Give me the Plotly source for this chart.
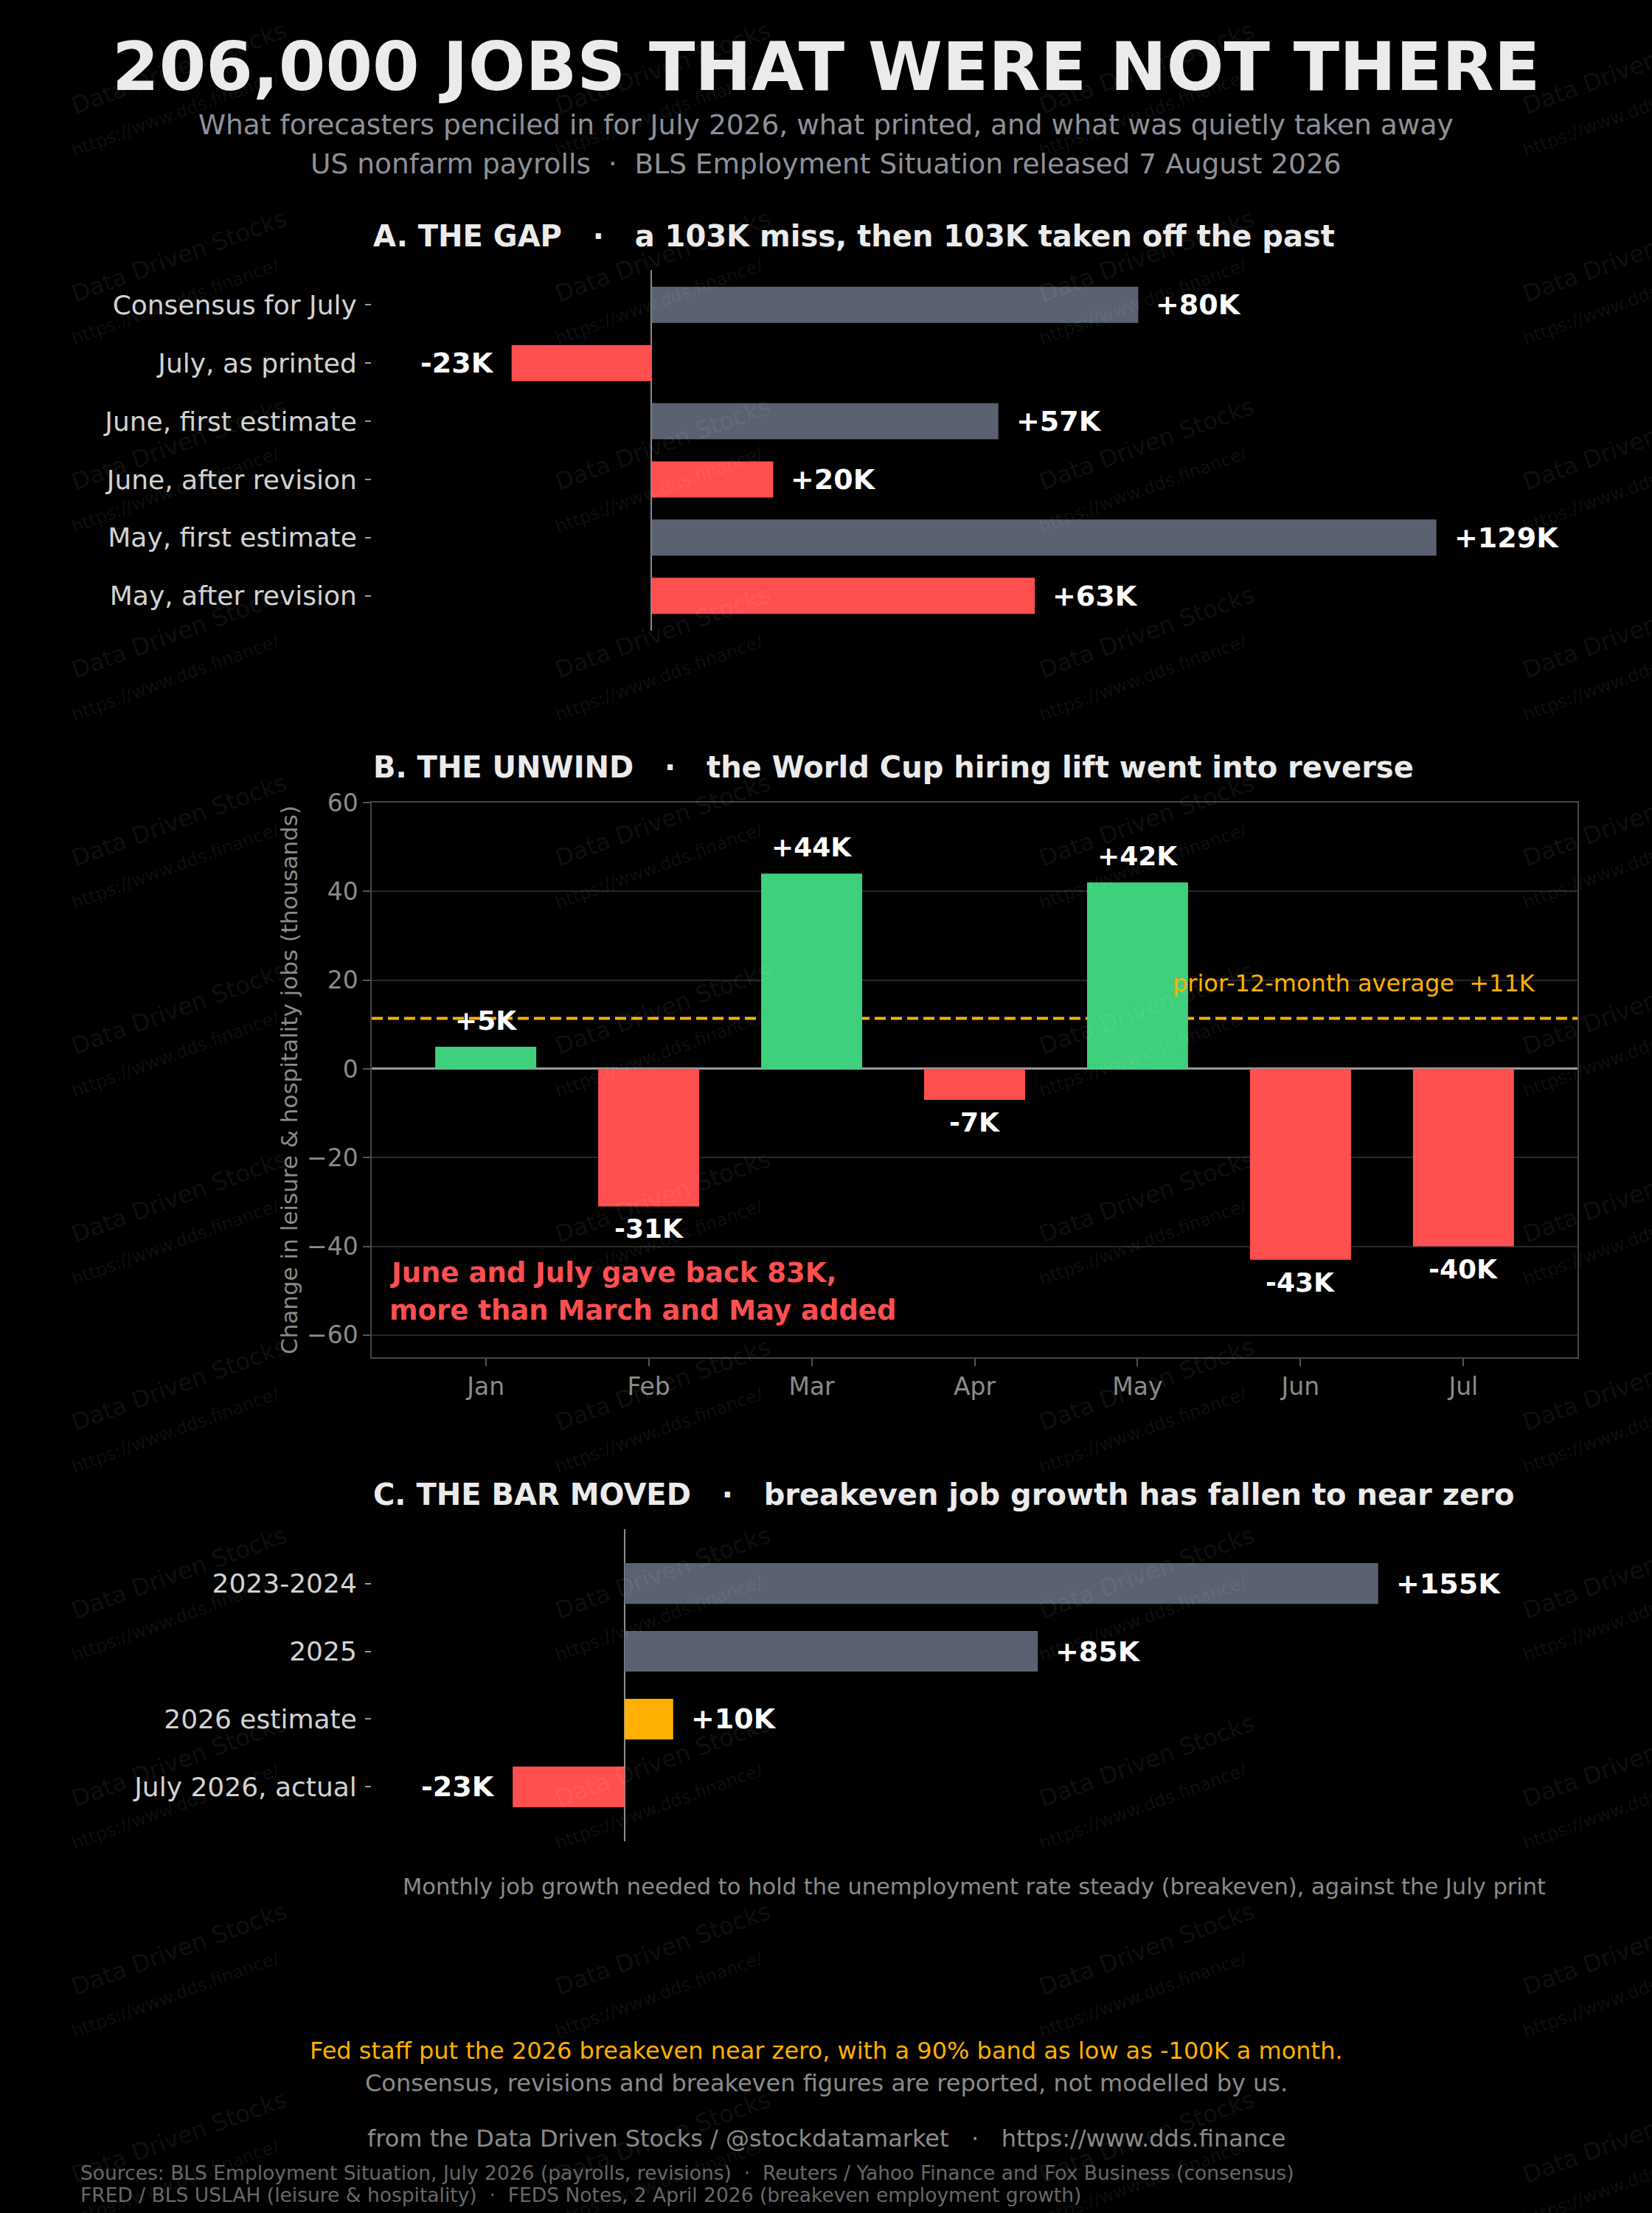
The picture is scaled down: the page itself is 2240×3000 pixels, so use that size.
import plotly.graph_objects as go

# A. the gap: payroll prints vs expectations (thousands)
gap_labels = ["Consensus for July", "July, as printed", "June, first estimate",
              "June, after revision", "May, first estimate", "May, after revision"]
gap_values = [80, -23, 57, 20, 129, 63]

# B. leisure & hospitality, monthly change (thousands)
months = ["Jan", "Feb", "Mar", "Apr", "May", "Jun", "Jul"]
lh_change = [5, -31, 44, -7, 42, -43, -40]
lh_prior_avg = 11.4

# C. breakeven job growth (thousands a month)
be_labels = ["2023-2024", "2025", "2026 estimate", "July 2026, actual"]
be_values = [155, 85, 10, -23]

W, H = 2240, 3000
BG = "#000000"
TITLE = "#ebebeb"
SUB = "#8e9099"
LABEL = "#d2d2d2"
TICK = "#8a8a8a"
GREY = "#5a6170"
RED = "#ff4f4f"
GREEN = "#3ed07c"
ORANGE = "#ffb000"
FONT = "DejaVu Sans"
SP = "\u00a0"


def px_x(x):
    return x / W


def px_y(y):
    return 1 - y / H


def k_label(v):
    return f"{v:+d}K"


gap_colors = [RED if ("printed" in lab or "after" in lab) else GREY for lab in gap_labels]
lh_colors = [GREEN if v > 0 else RED for v in lh_change]
be_colors = [RED if "actual" in lab else ORANGE if "estimate" in lab else GREY for lab in be_labels]

fig = go.Figure()
fig.add_trace(go.Bar(x=gap_values, y=gap_labels, orientation="h", width=0.62,
                     marker=dict(color=gap_colors, line=dict(width=0)),
                     xaxis="x", yaxis="y", hoverinfo="skip"))
fig.add_trace(go.Bar(x=months, y=lh_change, width=0.62,
                     marker=dict(color=lh_colors, line=dict(width=0)),
                     xaxis="x2", yaxis="y2", hoverinfo="skip"))
fig.add_trace(go.Bar(x=be_values, y=be_labels, orientation="h", width=0.6,
                     marker=dict(color=be_colors, line=dict(width=0)),
                     xaxis="x3", yaxis="y3", hoverinfo="skip"))

xdom = [px_x(504), px_x(2139)]
hbar_y = dict(type="category", ticks="outside", ticklen=8, tickwidth=1.5, tickcolor="#9a9a9a",
              ticklabelstandoff=4, automargin=False,
              tickfont=dict(size=36, color=LABEL, family=FONT), showgrid=False,
              showline=False, zeroline=False, fixedrange=True)
hbar_x = dict(showticklabels=False, showgrid=False, showline=False, ticks="", automargin=False,
              zeroline=True, zerolinecolor="#8c8c8c", zerolinewidth=2, fixedrange=True)
boxed = dict(showline=True, mirror=True, linecolor="#444444", linewidth=1.5, automargin=False,
             ticks="outside", ticklen=10, tickwidth=1.5, tickcolor="#555555",
             tickfont=dict(size=33, color=TICK, family=FONT), fixedrange=True)

fig.update_layout(
    width=W, height=H, autosize=False,
    margin=dict(l=0, r=0, t=0, b=0, pad=0),
    paper_bgcolor=BG, plot_bgcolor=BG,
    font=dict(family=FONT, color=TICK),
    showlegend=False,
    xaxis=dict(domain=xdom, anchor="y", range=[-46, 152.2], **hbar_x),
    yaxis=dict(domain=[px_y(855), px_y(366)], anchor="x", categoryorder="array",
               categoryarray=gap_labels, range=[5.6, -0.6], **hbar_y),
    xaxis2=dict(domain=xdom, anchor="y2", type="category", range=[-0.7, 6.7],
                showgrid=False, zeroline=False, **boxed),
    yaxis2=dict(domain=[px_y(1840), px_y(1088)], anchor="x2", range=[-65, 60],
                tickvals=[-60, -40, -20, 0, 20, 40, 60], showgrid=True,
                gridcolor="#262626", gridwidth=1.5, zeroline=True,
                zerolinecolor="#9a9a9a", zerolinewidth=3, **boxed),
    xaxis3=dict(domain=xdom, anchor="y3", range=[-52, 196], **hbar_x),
    yaxis3=dict(domain=[px_y(2496), px_y(2073)], anchor="x3", categoryorder="array",
                categoryarray=be_labels, range=[3.8, -0.8], **hbar_y),
)

# prior-12-month average line, behind the bars
fig.add_shape(type="line", xref="x2 domain", yref="y2", x0=0, x1=1,
              y0=lh_prior_avg, y1=lh_prior_avg, layer="below",
              line=dict(color=ORANGE, width=4, dash="15px,7px"))

ann = []


def text(t, x, y, size, color, bold=False, xanchor="center", yanchor="middle", **kw):
    if bold:
        t = f"<b>{t}</b>"
    d = dict(text=t, x=x, y=y, showarrow=False, xanchor=xanchor, yanchor=yanchor,
             font=dict(size=size, color=color, family=FONT))
    d.setdefault("xref", "paper")
    d.setdefault("yref", "paper")
    d.update(kw)
    ann.append(d)


# watermark tiles
for j in range(4):
    for k in range(12):
        cx, cy = 243 + 656 * j, 92 + 255 * k
        text("Data Driven Stocks", px_x(cx), px_y(cy), 32, "rgba(255,255,255,0.08)",
             textangle=-20)
        text("https://www.dds.finance/", px_x(cx - 5), px_y(cy + 62), 24,
             "rgba(255,255,255,0.07)", textangle=-20)

# headings
text("206,000 JOBS THAT WERE NOT THERE", 0.5, px_y(90), 91.5, TITLE, bold=True)
text("What forecasters penciled in for July 2026, what printed, and what was quietly taken away",
     0.5, px_y(169), 37.5, SUB)
text(f"US nonfarm payrolls{SP*2}·{SP*2}BLS Employment Situation released 7 August 2026",
     0.5, px_y(222), 37.5, SUB)

text(f"A. THE GAP{SP*3}·{SP*3}a 103K miss, then 103K taken off the past",
     px_x(504), px_y(320), 40, TITLE, bold=True, xanchor="left")
text(f"B. THE UNWIND{SP*3}·{SP*3}the World Cup hiring lift went into reverse",
     px_x(504), px_y(1040), 40, TITLE, bold=True, xanchor="left")
text(f"C. THE BAR MOVED{SP*3}·{SP*3}breakeven job growth has fallen to near zero",
     px_x(504), px_y(2026), 40, TITLE, bold=True, xanchor="left")

# panel A value labels
for i, v in enumerate(gap_values):
    text(k_label(v), v, i, 38, "#ffffff", bold=True,
         xanchor="left" if v >= 0 else "right", xshift=22 if v >= 0 else -22,
         xref="x", yref="y")

# panel B value labels
for i, v in enumerate(lh_change):
    text(k_label(v), i, v, 36, "#ffffff", bold=True,
         yanchor="bottom" if v >= 0 else "top", yshift=13 if v >= 0 else -8,
         xref="x2", yref="y2")

text(f"prior-12-month average{SP*2}{k_label(round(lh_prior_avg))}", 6.45, lh_prior_avg, 32, ORANGE,
     xanchor="right", yshift=47, xref="x2", yref="y2")
text("June and July gave back 83K,", -0.6, -46, 37, RED, bold=True, xanchor="left",
     xref="x2", yref="y2")
text("more than March and May added", -0.6, -54.5, 37, RED, bold=True, xanchor="left",
     xref="x2", yref="y2")
text("Change in leisure & hospitality jobs (thousands)", px_x(392), px_y(1464), 31, TICK,
     textangle=-90)

# panel C value labels
for i, v in enumerate(be_values):
    text(k_label(v), v, i, 38, "#ffffff", bold=True,
         xanchor="left" if v >= 0 else "right", xshift=22 if v >= 0 else -22,
         xref="x3", yref="y3")

text("Monthly job growth needed to hold the unemployment rate steady (breakeven), against the July print",
     px_x(1321), px_y(2557), 30.5, TICK)

# footer
text("Fed staff put the 2026 breakeven near zero, with a 90% band as low as -100K a month.",
     0.5, px_y(2780), 32, ORANGE)
text("Consensus, revisions and breakeven figures are reported, not modelled by us.",
     0.5, px_y(2824), 32, TICK)
text(f"from the Data Driven Stocks / @stockdatamarket{SP*3}·{SP*3}https://www.dds.finance",
     0.5, px_y(2899), 32, TICK)
text(f"Sources: BLS Employment Situation, July 2026 (payrolls, revisions){SP*2}·{SP*2}"
     f"Reuters / Yahoo Finance and Fox Business (consensus)",
     px_x(107), px_y(2945), 26.5, "#686868", xanchor="left")
text(f"FRED / BLS USLAH (leisure & hospitality){SP*2}·{SP*2}"
     f"FEDS Notes, 2 April 2026 (breakeven employment growth)",
     px_x(107), px_y(2975), 26.5, "#686868", xanchor="left")

fig.update_layout(annotations=ann)

# page has no margin, plot sits at the top-left corner
pin = ("document.body.style.margin='0';document.body.style.background='#000';"
       "var g=document.getElementsByClassName('plotly-graph-div')[0];"
       "g.style.position='absolute';g.style.top='0';g.style.left='0';")
fig.write_html("out.html", config={"displayModeBar": False}, post_script=pin)
